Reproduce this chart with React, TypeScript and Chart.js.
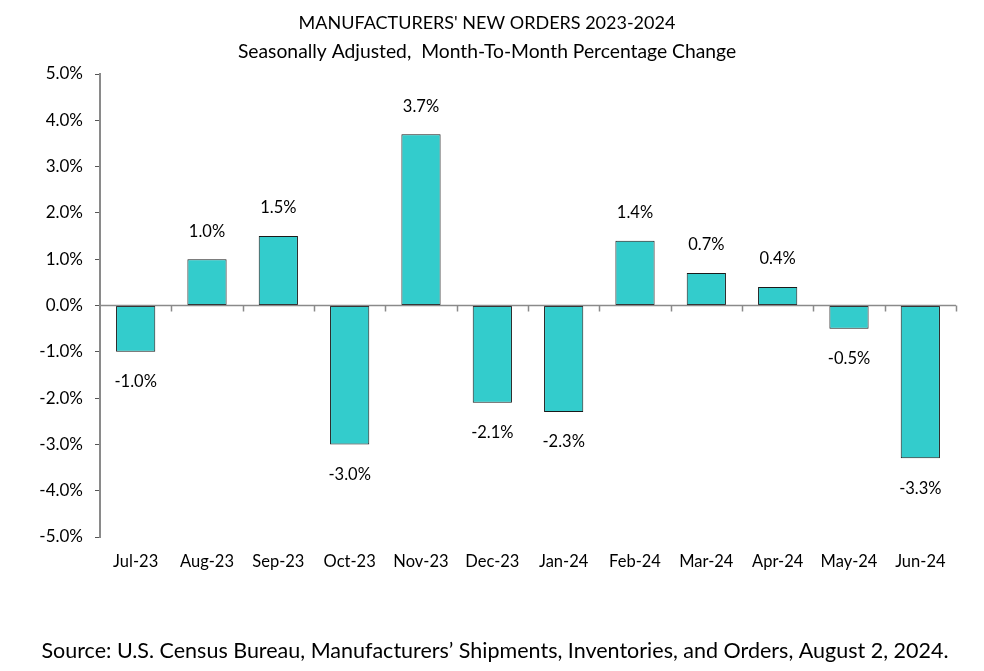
import React, { useEffect, useRef } from "react";
import { Chart, registerables } from "chart.js";

Chart.register(...registerables);

const categories = ["Jul-23", "Aug-23", "Sep-23", "Oct-23", "Nov-23", "Dec-23", "Jan-24", "Feb-24", "Mar-24", "Apr-24", "May-24", "Jun-24"];
const values = [-1.0, 1.0, 1.5, -3.0, 3.7, -2.1, -2.3, 1.4, 0.7, 0.4, -0.5, -3.3];
const titleLines = ["MANUFACTURERS' NEW ORDERS 2023-2024", "Seasonally Adjusted,  Month-To-Month Percentage Change"];
const sourceText = "Source: U.S. Census Bureau, Manufacturers\u2019 Shipments, Inventories, and Orders, August 2, 2024.";

const FONT = "Lato, 'Open Sans', sans-serif";

const overlay = {
  id: "overlay",
  afterDatasetsDraw(chart: any) {
    const ctx = chart.ctx;
    const area = chart.chartArea;
    const ys = chart.scales.y;
    const y0 = ys.getPixelForValue(0);
    ctx.save();
    // zero line
    ctx.strokeStyle = "#8a8a8a";
    ctx.lineWidth = 1.5;
    ctx.beginPath();
    ctx.moveTo(area.left, y0);
    ctx.lineTo(area.right, y0);
    ctx.stroke();
    const step = (area.right - area.left) / categories.length;
    for (let i = 1; i <= categories.length; i++) {
      const x = Math.round(area.left + step * i) + 0.5;
      ctx.beginPath();
      ctx.moveTo(x, y0);
      ctx.lineTo(x, y0 + 6);
      ctx.stroke();
    }
    // data labels
    ctx.fillStyle = "#000";
    ctx.font = `16.5px ${FONT}`;
    ctx.textAlign = "center";
    ctx.textBaseline = "middle";
    const meta = chart.getDatasetMeta(0);
    meta.data.forEach((bar: any, i: number) => {
      const v = values[i];
      const y = v >= 0 ? bar.y - 28 : bar.y + 30;
      ctx.fillText(v.toFixed(1) + "%", bar.x, y);
    });
    // title
    ctx.font = `18px ${FONT}`;
    ctx.fillText(titleLines[0], 487, 23);
    ctx.font = `19.3px ${FONT}`;
    ctx.fillText(titleLines[1], 487, 52);
    // source
    ctx.font = `21.5px ${FONT}`;
    ctx.fillText(sourceText, 495, 651);
    ctx.restore();
  },
};

export default function App() {
  const ref = useRef<HTMLCanvasElement | null>(null);
  useEffect(() => {
    if (!ref.current) return;
    const chart = new Chart(ref.current, {
      type: "bar",
      data: {
        labels: categories,
        datasets: [
          {
            data: values,
            backgroundColor: "#33CCCC",
            borderColor: "#1a1a1a",
            borderWidth: 1,
            borderSkipped: false,
            categoryPercentage: 1,
            barPercentage: 0.55,
          },
        ],
      },
      options: {
        animation: false,
        responsive: false,
        maintainAspectRatio: false,
        layout: { padding: { left: 8, right: 28, top: 74, bottom: 84 } },
        plugins: { legend: { display: false }, tooltip: { enabled: false }, title: { display: false } },
        scales: {
          x: {
            grid: { display: false },
            border: { display: false },
            ticks: { color: "#000", font: { family: FONT, size: 16.5 }, padding: 7, maxRotation: 0, autoSkip: false },
            afterFit: (s: any) => {
              s.height = 50;
            },
          },
          y: {
            min: -5,
            max: 5,
            grid: { display: true, drawOnChartArea: false, drawTicks: true, tickLength: 5, color: "#555", lineWidth: 1 },
            border: { display: true, color: "#8a8a8a", width: 2 },
            ticks: {
              stepSize: 1,
              color: "#000",
              font: { family: FONT, size: 17 },
              padding: 12,
              callback: (v: any) => Number(v).toFixed(1) + "%",
            },
            afterFit: (s: any) => {
              s.width = 92;
            },
          },
        },
      },
      plugins: [overlay],
    });
    return () => chart.destroy();
  }, []);
  return (
    <div style={{ position: "fixed", left: 0, top: 0, width: 984, height: 671, background: "#fff" }}>
      <canvas ref={ref} width={984} height={671} style={{ width: 984, height: 671 }} />
    </div>
  );
}
